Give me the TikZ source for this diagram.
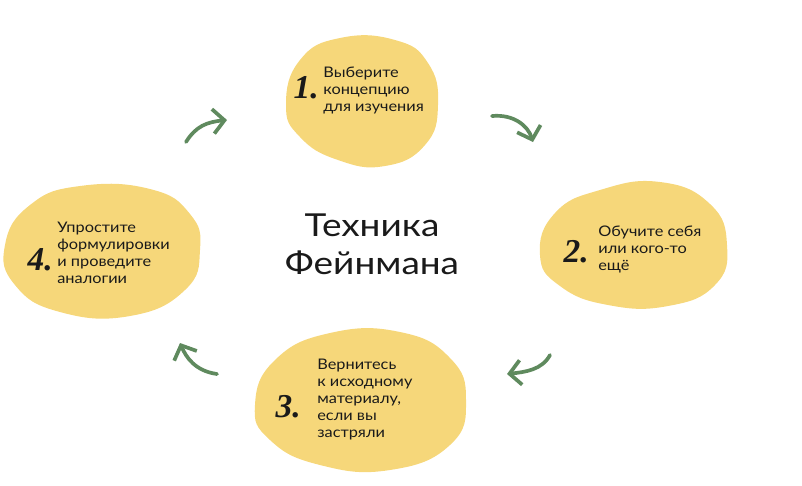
\documentclass[tikz,border=0pt]{standalone}
\usepackage{fontspec}
\setmainfont{Lato}
\newfontfamily\widefont[FakeStretch=1.12]{Lato}
\newfontfamily\titlefont[FakeStretch=1.17]{Lato}
\newfontfamily\handfont{Liberation Serif}
\usetikzlibrary{arrows.meta,positioning}
\definecolor{pyellow}{HTML}{F6D77A}
\definecolor{pgreen}{HTML}{5F8A5E}
\definecolor{ptext}{HTML}{1A1A1A}
\tikzset{
  % soft yellow blob behind each step
  blob/.style   = {fill=pyellow},
  steptxt/.style = {anchor=north west, inner sep=0pt, align=left, text=ptext,
                  font=\widefont\fontsize{8.3pt}{9.6pt}\selectfont},
  stepnum/.style = {anchor=base east, inner sep=0pt, text=ptext,
                  font=\handfont\bfseries\itshape\fontsize{19pt}{19pt}\selectfont},
  flow/.style   = {-{Straight Barb[length=6.5pt,width=14pt]}, line width=2.1pt,
                  pgreen, line cap=round, line join=round},
  ttl/.style    = {align=center, inner sep=0pt, text=ptext,
                  font=\titlefont\fontsize{18pt}{21.6pt}\selectfont},
}
\begin{document}
\begin{tikzpicture}[x=0.02cm,y=-0.02cm]
\useasboundingbox (0,0) rectangle (802,485);
% blobs
\fill[blob] plot[smooth cycle, tension=0.8] coordinates
  {(300,60) (340,38) (395,40) (428,63) (438,105) (425,145) (385,166) (338,160) (300,137) (286,105)};
\fill[blob] plot[smooth cycle, tension=0.8] coordinates
  {(555,213) (600,190) (660,182) (710,204) (727,245) (715,285) (668,306) (608,305) (560,286) (540,255)};
\fill[blob] plot[smooth cycle, tension=0.8] coordinates
  {(275,360) (330,333) (400,332) (450,358) (466,400) (450,445) (390,470) (320,465) (270,440) (255,405)};
\fill[blob] plot[smooth cycle, tension=0.8] coordinates
  {(30,205) (80,186) (150,189) (190,214) (200,250) (185,290) (130,316) (60,312) (15,285) (5,245)};
% title
\node[ttl] (title) at (372,244) {Техника\\Фейнмана};
% steps
\node[steptxt] (s1) at (323,67) {Выберите\\концепцию\\для изучения};
\node[stepnum] (n1) at (319,98) {1.};
\node[steptxt] (s2) at (598,226) {Обучите себя\\или кого-то\\ещё};
\node[stepnum] (n2) at (589,262) {2.};
\node[steptxt] (s3) at (317,359) {Вернитесь\\к исходному\\материалу,\\если вы\\застряли};
\node[stepnum] (n3) at (301,417) {3.};
\node[steptxt] (s4) at (57,222) {Упростите\\формулировки\\и проведите\\аналогии};
\node[stepnum] (n4) at (53,270) {4.};
% arrows
\coordinate (a1s) at (186,142);
\coordinate (a1e) at (227,120);
\coordinate (a2s) at (492,116);
\coordinate (a2e) at (533,142);
\coordinate (a3s) at (550,355);
\coordinate (a3e) at (507,374);
\coordinate (a4s) at (217,374);
\coordinate (a4e) at (180,343);
\draw[flow] (a1s) .. controls +(10,-16) and +(-20,2) .. (a1e);
\draw[flow] (a2s) .. controls +(22,-2) and +(-5,-16) .. (a2e);
\draw[flow] (a3s) .. controls +(-8,15) and +(18,-2) .. (a3e);
\draw[flow] (a4s) .. controls +(-22,-3) and +(6,14) .. (a4e);
\end{tikzpicture}
\end{document}
